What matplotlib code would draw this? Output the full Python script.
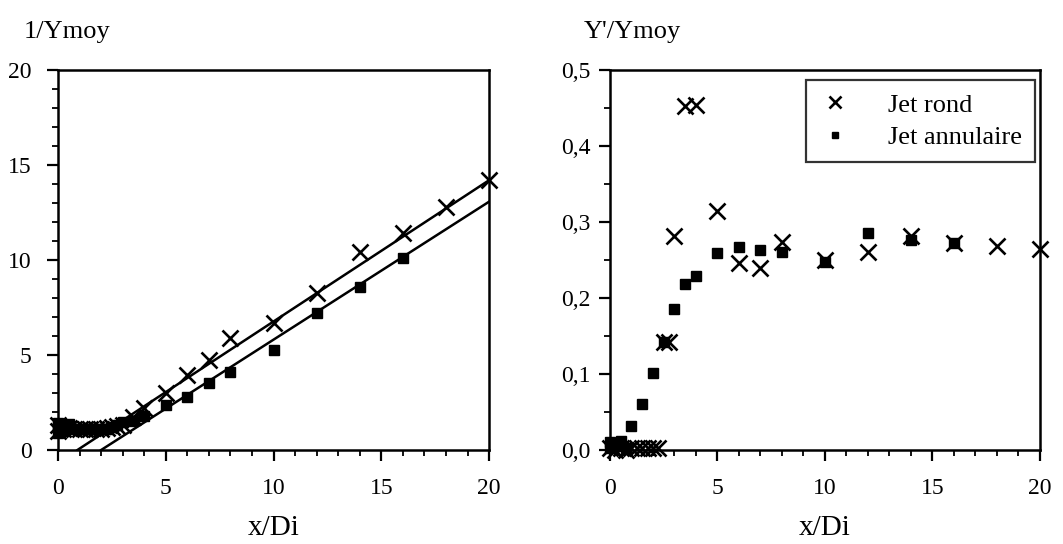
import matplotlib
matplotlib.use("Agg")
import matplotlib.pyplot as plt
from matplotlib.ticker import MultipleLocator, FuncFormatter

plt.rcParams['font.family'] = ['Liberation Serif', 'DejaVu Serif']

# --- donnees : 1/Ymoy (gauche) ---
rond_x = [0, 0, 0.25, 0.5, 0.75, 1, 1.25, 1.5, 1.75, 2, 2.25, 2.5, 2.75,
          3, 3.5, 4, 5, 6, 7, 8, 10, 12, 14, 16, 18, 20]
rond_y = [1.0, 1.3, 1.1, 1.15, 1.1, 1.1, 1.1, 1.1, 1.1, 1.12, 1.15, 1.2, 1.25,
          1.3, 1.75, 2.2, 3.0, 3.95, 4.75, 5.88, 6.67, 8.25, 10.44, 11.4, 12.8, 14.2]
ann_x = [0, 0, 0, 0.25, 0.5, 0.75, 1, 1.25, 1.5, 1.75, 2, 2.25, 2.5, 2.75,
         3, 3.5, 4, 5, 6, 7, 8, 10, 12, 14, 16]
ann_y = [0.9, 1.2, 1.4, 1.0, 1.35, 1.1, 1.1, 1.1, 1.1, 1.1, 1.1, 1.12, 1.2, 1.3,
         1.45, 1.55, 1.8, 2.37, 2.8, 3.54, 4.12, 5.26, 7.19, 8.6, 10.12]
fit_rond_x = [0.9, 20]
fit_rond_y = [0, 14.2]
fit_ann_x = [2.0, 20]
fit_ann_y = [0, 13.07]

# --- donnees : Y'/Ymoy (droite) ---
rms_rond_x = [0, 0.25, 0.5, 0.75, 1, 1.25, 1.5, 1.75, 2, 2.25, 2.5, 2.75,
              3, 3.5, 4, 5, 6, 7, 8, 10, 12, 14, 16, 18, 20]
rms_rond_y = [0.003, 0.0, 0.002, 0.0, 0.002, 0.002, 0.003, 0.003, 0.003, 0.003,
              0.142, 0.142, 0.281, 0.452, 0.454, 0.314, 0.246, 0.239, 0.274,
              0.25, 0.261, 0.281, 0.272, 0.268, 0.265]
rms_ann_x = [0, 0, 0.25, 0.5, 0.75, 1, 1.5, 2, 2.5, 3, 3.5, 4, 5, 6, 7, 8,
             10, 12, 14, 16]
rms_ann_y = [0.002, 0.01, 0.005, 0.012, 0.003, 0.031, 0.061, 0.101, 0.142,
             0.186, 0.219, 0.229, 0.259, 0.267, 0.263, 0.26, 0.248, 0.286,
             0.276, 0.272]

fig = plt.figure(figsize=(10.63, 5.44), dpi=100)
ax1 = fig.add_axes([0.0546, 0.1728, 0.4055, 0.6985])
ax2 = fig.add_axes([0.5738, 0.1728, 0.4045, 0.6985])

mk_x = dict(marker='x', color='black', markersize=11.5, markeredgewidth=1.9,
            linestyle='none', clip_on=False)
mk_s = dict(marker='s', color='black', markersize=6.5, linestyle='none',
            clip_on=False)

ax1.plot(fit_rond_x, fit_rond_y, color='black', lw=1.8)
ax1.plot(fit_ann_x, fit_ann_y, color='black', lw=1.8)
ax1.plot(rond_x, rond_y, **mk_x)
ax1.plot(ann_x, ann_y, **mk_s)

ax2.plot(rms_rond_x, rms_rond_y, label='Jet rond', **mk_x)
ax2.plot(rms_ann_x, rms_ann_y, label='Jet annulaire', **mk_s)

ax1.set_xlim(0, 20)
ax1.set_ylim(0, 20)
ax1.yaxis.set_major_locator(MultipleLocator(5))
ax1.yaxis.set_minor_locator(MultipleLocator(1))

ax2.set_xlim(0, 20)
ax2.set_ylim(0, 0.5)
ax2.yaxis.set_major_locator(MultipleLocator(0.1))
ax2.yaxis.set_minor_locator(MultipleLocator(0.05))
ax2.yaxis.set_major_formatter(FuncFormatter(lambda v, p: f"{v:.1f}".replace('.', ',')))

for ax in (ax1, ax2):
    ax.xaxis.set_major_locator(MultipleLocator(5))
    ax.xaxis.set_minor_locator(MultipleLocator(1))
    ax.tick_params(which='major', direction='out', length=8, width=1.6,
                   labelsize=17)
    ax.tick_params(which='minor', direction='out', length=4, width=1.3)
    ax.tick_params(axis='x', which='major', pad=12)
    for s in ax.spines.values():
        s.set_linewidth(1.8)
    ax.set_xlabel('x/Di', fontsize=21, labelpad=12)

ax1.tick_params(axis='y', which='major', pad=11)
ax2.tick_params(axis='y', which='major', pad=6)

leg = ax2.legend(loc='upper right', bbox_to_anchor=(0.988, 0.974),
                 borderaxespad=0, fontsize=19, frameon=True, fancybox=False,
                 edgecolor='black', borderpad=0.5, handlelength=1.2,
                 handletextpad=1.4, markerscale=0.7, labelspacing=0.35)
leg.get_frame().set_linewidth(1.6)

# titres des axes
fig.text(24 / 1063, 1 - 38 / 544, '1/Ymoy', fontsize=19, ha='left', va='baseline')
fig.text(584 / 1063, 1 - 38 / 544, "Y'/Ymoy", fontsize=19, ha='left', va='baseline')

fig.savefig('out.png', dpi=100)
